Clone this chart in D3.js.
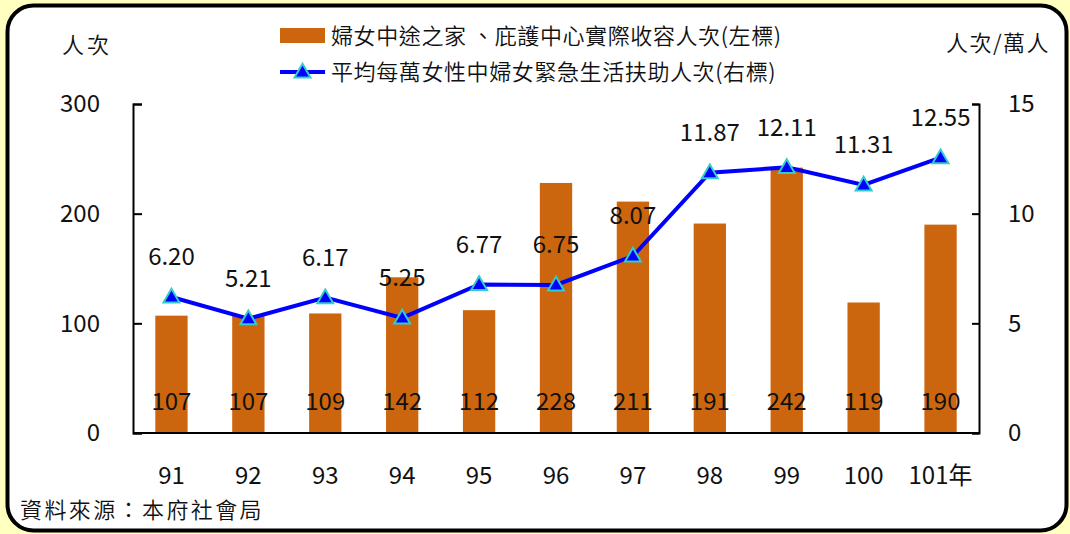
<!DOCTYPE html>
<html>
<head>
<meta charset="utf-8">
<script src="https://cdn.jsdelivr.net/npm/d3@7"></script>
<style>
  body { margin: 0; background: #ffffc0; }
  svg { display: block; }
  text { font-family: "Noto Sans CJK TC", "Noto Sans", sans-serif; fill: #111; }
  .cjk { font-weight: 350; }
</style>
</head>
<body>
<div id="chart"></div>
<script>
var years = ["91", "92", "93", "94", "95", "96", "97", "98", "99", "100", "101年"],
    shelter = [107, 107, 109, 142, 112, 228, 211, 191, 242, 119, 190],
    aid = [6.20, 5.21, 6.17, 5.25, 6.77, 6.75, 8.07, 11.87, 12.11, 11.31, 12.55],
    leftTicks = [0, 100, 200, 300],
    rightTicks = [0, 5, 10, 15]

var width = 1070,
    height = 534,
    margin = {top: 104, bottom: 101, left: 133, right: 91}

var svg = d3.select("#chart")
  .append("svg")
  .attr("width", width)
  .attr("height", height)

// white card with rounded corners
svg.append("rect")
  .attr("x", 7.5).attr("y", 5.5)
  .attr("width", 1059).attr("height", 525)
  .attr("rx", 26)
  .attr("fill", "#fff")
  .attr("stroke", "#000")
  .attr("stroke-width", 4)

var x = d3.scaleBand()
  .domain(years)
  .range([margin.left, width - margin.right])
  .paddingInner(0.58)
  .paddingOuter(0.29)

var yL = d3.scaleLinear().domain([0, 300]).range([height - margin.bottom, margin.top])
var yR = d3.scaleLinear().domain([0, 15]).range([height - margin.bottom, margin.top])

// bars
svg.append("g").selectAll("rect")
  .data(shelter)
  .enter().append("rect")
    .attr("x", function(d, i) { return x(years[i]) })
    .attr("y", function(d) { return yL(d) })
    .attr("width", x.bandwidth())
    .attr("height", function(d) { return yL(0) - yL(d) })
    .attr("fill", "#cc660e")

// axes
var axL = svg.append("g")
  .attr("transform", "translate(" + margin.left + ",0)")
  .call(d3.axisRight(yL).tickValues(leftTicks).tickSize(9).tickSizeOuter(9).tickFormat(""))
var axR = svg.append("g")
  .attr("transform", "translate(" + (width - margin.right) + ",0)")
  .call(d3.axisLeft(yR).tickValues(rightTicks).tickSize(7).tickSizeOuter(7).tickFormat(""))
svg.selectAll(".domain, .tick line").attr("stroke", "#000").attr("stroke-width", 2)

svg.append("line")
  .attr("x1", margin.left).attr("x2", width - margin.right)
  .attr("y1", yL(0)).attr("y2", yL(0))
  .attr("stroke", "#000").attr("stroke-width", 2)

// tick labels
svg.append("g").selectAll("text")
  .data(leftTicks)
  .enter().append("text")
    .attr("x", 100).attr("y", function(d) { return yL(d) })
    .attr("dy", "0.35em")
    .attr("text-anchor", "end")
    .attr("font-size", 24)
    .text(function(d) { return d })

svg.append("g").selectAll("text")
  .data(rightTicks)
  .enter().append("text")
    .attr("x", 1008).attr("y", function(d) { return yR(d) })
    .attr("dy", "0.35em")
    .attr("font-size", 24)
    .text(function(d) { return d })

svg.append("g").selectAll("text")
  .data(years)
  .enter().append("text")
    .attr("x", function(d) { return x(d) + x.bandwidth() / 2 })
    .attr("y", 476)
    .attr("dy", "0.35em")
    .attr("text-anchor", "middle")
    .attr("font-size", 24)
    .text(function(d) { return d })

// bar value labels sit near the base
svg.append("g").selectAll("text")
  .data(shelter)
  .enter().append("text")
    .attr("x", function(d, i) { return x(years[i]) + x.bandwidth() / 2 })
    .attr("y", 402)
    .attr("dy", "0.35em")
    .attr("text-anchor", "middle")
    .attr("font-size", 24)
    .text(function(d) { return d })

// line
var line = d3.line()
  .x(function(d, i) { return x(years[i]) + x.bandwidth() / 2 })
  .y(function(d) { return yR(d) })

svg.append("path")
  .datum(aid)
  .attr("d", line)
  .attr("fill", "none")
  .attr("stroke", "#0000ff")
  .attr("stroke-width", 4)

var tri = d3.symbol().type(d3.symbolTriangle).size(110)
svg.append("g").selectAll("path")
  .data(aid)
  .enter().append("path")
    .attr("d", tri)
    .attr("transform", function(d, i) { return "translate(" + (x(years[i]) + x.bandwidth() / 2) + "," + (yR(d) + 1) + ")" })
    .attr("fill", "#0000ff")
    .attr("stroke", "#33cccc")
    .attr("stroke-width", 2)

svg.append("g").selectAll("text")
  .data(aid)
  .enter().append("text")
    .attr("x", function(d, i) { return x(years[i]) + x.bandwidth() / 2 })
    .attr("y", function(d) { return yR(d) - 40 })
    .attr("dy", "0.35em")
    .attr("text-anchor", "middle")
    .attr("font-size", 24)
    .text(function(d) { return d.toFixed(2) })

// axis titles
svg.append("text").attr("class", "cjk").attr("x", 62).attr("y", 45).attr("dy", "0.35em")
  .attr("font-size", 22).attr("letter-spacing", 3).text("人次")
svg.append("text").attr("class", "cjk").attr("x", 1050).attr("y", 43).attr("dy", "0.35em")
  .attr("text-anchor", "end").attr("font-size", 22).attr("letter-spacing", 1.5).text("人次/萬人")

// legend
var legend = svg.append("g")
legend.append("rect")
  .attr("x", 280).attr("y", 28).attr("width", 45).attr("height", 15)
  .attr("fill", "#cc660e")
legend.append("text").attr("class", "cjk").attr("x", 331).attr("y", 36).attr("dy", "0.35em")
  .attr("font-size", 22).attr("letter-spacing", 0.6).text("婦女中途之家 、庇護中心實際收容人次(左標)")
legend.append("line")
  .attr("x1", 280).attr("x2", 325).attr("y1", 72).attr("y2", 72)
  .attr("stroke", "#0000ff").attr("stroke-width", 4)
legend.append("path")
  .attr("d", tri)
  .attr("transform", "translate(302.5,73)")
  .attr("fill", "#0000ff").attr("stroke", "#33cccc").attr("stroke-width", 2)
legend.append("text").attr("class", "cjk").attr("x", 331).attr("y", 72).attr("dy", "0.35em")
  .attr("font-size", 22).attr("letter-spacing", 0.6).text("平均每萬女性中婦女緊急生活扶助人次(右標)")

// source
svg.append("text").attr("class", "cjk").attr("x", 20).attr("y", 510).attr("dy", "0.35em")
  .attr("font-size", 22).attr("letter-spacing", 2.4).text("資料來源：本府社會局")
</script>
</body>
</html>
